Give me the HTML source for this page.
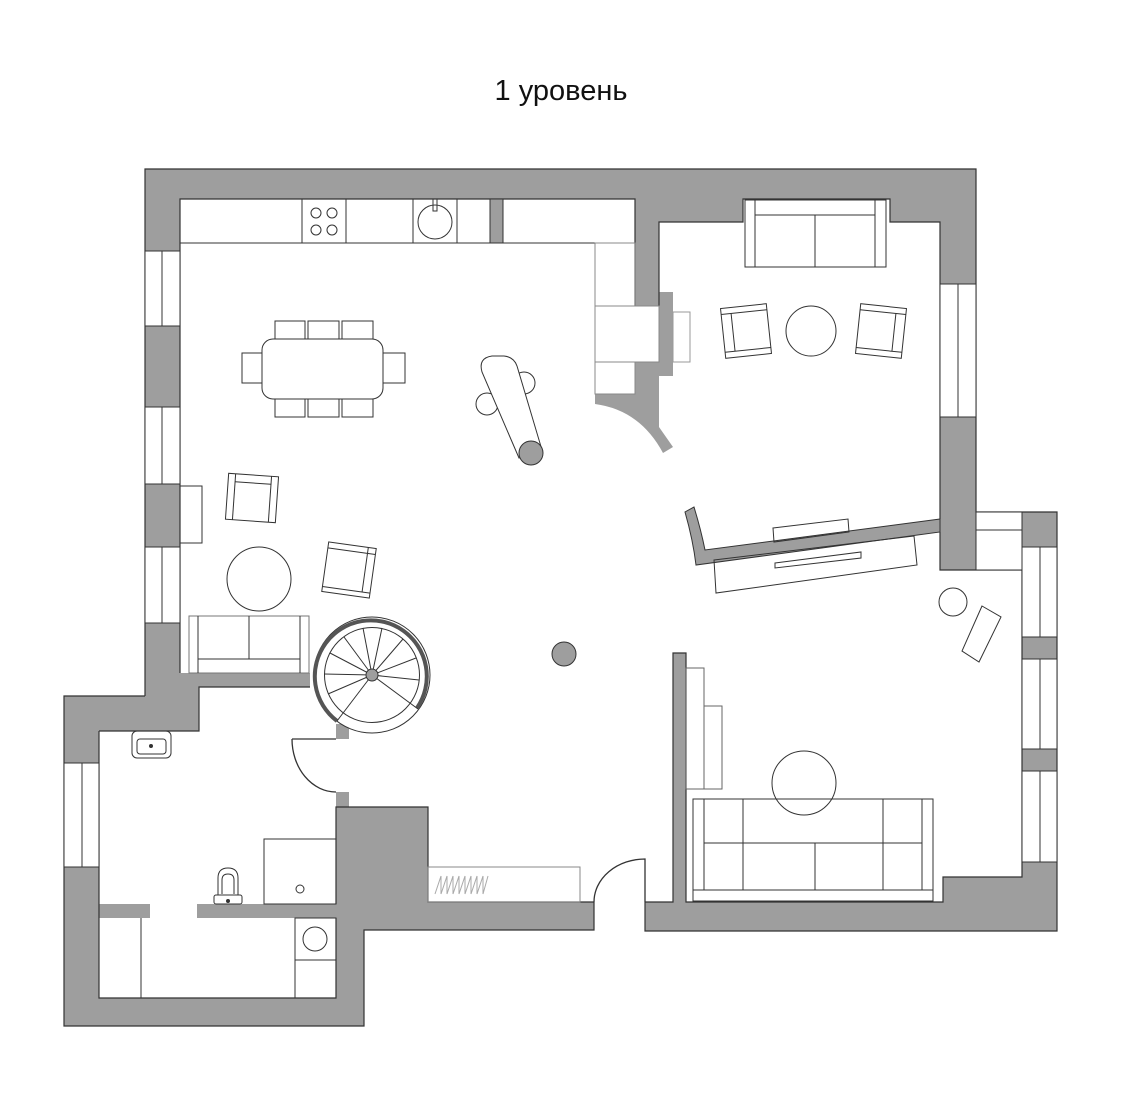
<!DOCTYPE html>
<html><head><meta charset="utf-8"><style>
html,body{margin:0;padding:0;background:#fff;}
svg{display:block;}
</style></head><body>
<svg width="1121" height="1120" viewBox="0 0 1121 1120" xmlns="http://www.w3.org/2000/svg">
<text x="561" y="100" text-anchor="middle" font-family="Liberation Sans, sans-serif" font-size="29" fill="#111">1 уровень</text>
<g fill="#9e9e9e" stroke="none">
<rect x="145" y="169" width="831" height="30"/>
<rect x="659" y="199" width="84" height="23"/>
<rect x="890" y="199" width="50" height="23"/>
<rect x="940" y="199" width="36" height="371"/>
<rect x="635" y="199" width="24" height="107"/>
<rect x="145" y="169" width="35" height="527"/>
<rect x="64" y="696" width="135" height="35"/>
<rect x="180" y="673" width="130" height="14"/>
<rect x="180" y="673" width="19" height="58"/>
<rect x="64" y="696" width="35" height="330"/>
<rect x="64" y="998" width="300" height="28"/>
<rect x="336" y="930" width="28" height="96"/>
<rect x="336" y="807" width="92" height="123"/>
<rect x="336" y="792" width="13" height="15"/>
<rect x="428" y="902" width="166" height="28"/>
<rect x="336" y="724" width="13" height="15"/>
<rect x="645" y="902" width="412" height="29"/>
<rect x="943" y="877" width="114" height="54"/>
<rect x="1022" y="862" width="35" height="69"/>
<rect x="673" y="653" width="13" height="249"/>
<rect x="1022" y="512" width="35" height="35"/>
<rect x="1022" y="637" width="35" height="22"/>
<rect x="1022" y="749" width="35" height="22"/>
<rect x="99" y="904" width="51" height="14"/>
<rect x="197" y="904" width="139" height="14"/>
<rect x="659" y="292" width="14" height="84"/>
<path d="M595,394 L635,394 L635,362 L659,362 L659,427 L673,447 L663,453 Q640,410 595,404 Z"/>
<path d="M940,519 L705,550 Q701,530 694,507 L685,512 Q693,540 696,565 L940,532 Z" stroke="#333" stroke-width="1"/>
</g>
<g fill="none" stroke="#333" stroke-width="1.2">
<path d="M145,696 L145,169 L976,169 L976,512 L1057,512 L1057,931 L645,931 L645,902 M594,902 L594,930 L364,930 L364,1026 L64,1026 L64,696 L145,696"/>
<path d="M180,673 L180,199 L635,199 L635,306 M659,306 L659,222 L743,222 L743,199 L890,199 L890,222 L940,222 L940,519 M940,532 L940,570 L1022,570 L1022,877 L943,877 L943,902 L686,902 L686,653 L673,653 L673,902 L645,902"/>
<path d="M99,731 L199,731 L199,687 L310,687 M99,731 L99,998 L336,998 L336,918 M336,904 L336,807 L428,807 L428,902 L594,902"/>
</g>
<g fill="#fff" stroke="#333" stroke-width="1">
<rect x="145" y="251" width="35" height="75"/><line x1="162" y1="251" x2="162" y2="326"/>
<rect x="145" y="407" width="35" height="77"/><line x1="162" y1="407" x2="162" y2="484"/>
<rect x="145" y="547" width="35" height="76"/><line x1="162" y1="547" x2="162" y2="623"/>
<rect x="64" y="763" width="35" height="104"/><line x1="82" y1="763" x2="82" y2="867"/>
<rect x="940" y="284" width="36" height="133"/><line x1="958" y1="284" x2="958" y2="417"/>
<rect x="976" y="512" width="46" height="58"/><line x1="976" y1="530" x2="1022" y2="530"/>
<rect x="1022" y="547" width="35" height="90"/><line x1="1040" y1="547" x2="1040" y2="637"/>
<rect x="1022" y="659" width="35" height="90"/><line x1="1040" y1="659" x2="1040" y2="749"/>
<rect x="1022" y="771" width="35" height="91"/><line x1="1040" y1="771" x2="1040" y2="862"/>
</g>
<g fill="none" stroke="#333" stroke-width="1">
<line x1="180" y1="243" x2="595" y2="243"/>
<line x1="595" y1="243" x2="635" y2="243"/>
<rect x="302" y="199" width="44" height="44"/>
<circle cx="316" cy="213" r="5"/><circle cx="332" cy="213" r="5"/><circle cx="316" cy="230" r="5"/><circle cx="332" cy="230" r="5"/>
<rect x="413" y="199" width="44" height="44"/>
<circle cx="435" cy="222" r="17"/><rect x="433" y="199" width="4" height="12"/>
<rect x="490" y="199" width="13" height="44" fill="#9e9e9e"/>
<rect x="595" y="243" width="40" height="63" stroke="#888"/>
<rect x="595" y="306" width="64" height="56" stroke="#888"/>
<rect x="595" y="362" width="40" height="32" stroke="#888"/>
<rect x="673" y="312" width="17" height="50" stroke="#999"/>
<rect x="262" y="339" width="121" height="60" rx="11"/>
<rect x="275" y="321" width="30" height="18"/><rect x="308" y="321" width="31" height="18"/><rect x="342" y="321" width="31" height="18"/>
<rect x="275" y="399" width="30" height="18"/><rect x="308" y="399" width="31" height="18"/><rect x="342" y="399" width="31" height="18"/>
<rect x="242" y="353" width="20" height="30"/><rect x="383" y="353" width="22" height="30"/>
<circle cx="524" cy="383" r="11" fill="#fff"/>
<circle cx="487" cy="404" r="11" fill="#fff"/>
<path d="M482,372 Q478,358 492,356 L504,356 Q514,357 517,366 L542,450 L519,458 Z" fill="#fff"/>
<circle cx="531" cy="453" r="12" fill="#9e9e9e"/>
<rect x="180" y="486" width="22" height="57"/>
<g transform="rotate(4 252 498)"><rect x="227" y="475" width="50" height="46"/><line x1="234" y1="475" x2="234" y2="521"/><line x1="234" y1="483" x2="270" y2="483"/><line x1="270" y1="475" x2="270" y2="521"/></g>
<g transform="rotate(8 349 570)"><rect x="325" y="545" width="48" height="50"/><line x1="365" y1="545" x2="365" y2="590"/><line x1="325" y1="590" x2="373" y2="590"/><line x1="325" y1="551" x2="373" y2="551"/></g>
<circle cx="259" cy="579" r="32"/>
<rect x="189" y="616" width="120" height="57" stroke="#777"/>
<line x1="198" y1="616" x2="198" y2="673"/><line x1="300" y1="616" x2="300" y2="673"/>
<line x1="198" y1="659" x2="300" y2="659"/><line x1="249" y1="616" x2="249" y2="659"/>
<circle cx="564" cy="654" r="12" fill="#9e9e9e"/>
<rect x="745" y="200" width="141" height="67"/>
<line x1="755" y1="215" x2="875" y2="215"/><line x1="755" y1="200" x2="755" y2="267"/><line x1="875" y1="200" x2="875" y2="267"/><line x1="815" y1="215" x2="815" y2="267"/>
<g transform="rotate(-6 746 331)"><rect x="723" y="306" width="46" height="50"/><line x1="723" y1="312" x2="769" y2="312"/><line x1="723" y1="350" x2="769" y2="350"/><line x1="733" y1="312" x2="733" y2="350"/></g>
<circle cx="811" cy="331" r="25"/>
<g transform="rotate(6 881 331)"><rect x="858" y="306" width="46" height="50"/><line x1="858" y1="312" x2="904" y2="312"/><line x1="858" y1="350" x2="904" y2="350"/><line x1="894" y1="312" x2="894" y2="350"/></g>
<polygon points="773,528 848,519 849,532 774,542"/>
<polygon points="714,560 914,536 917,565 716,593"/>
<polygon points="775,563 861,552 861,558 775,568"/>
<circle cx="953" cy="602" r="14"/>
<polygon points="982,606 1001,617 979,662 962,651"/>
<rect x="686" y="668" width="18" height="121" stroke="#666"/>
<rect x="704" y="706" width="18" height="83" stroke="#666"/>
<circle cx="804" cy="783" r="32"/>
<rect x="693" y="799" width="240" height="102"/>
<line x1="704" y1="799" x2="704" y2="890"/><line x1="922" y1="799" x2="922" y2="890"/>
<line x1="693" y1="890" x2="933" y2="890"/>
<line x1="743" y1="799" x2="743" y2="890"/><line x1="883" y1="799" x2="883" y2="890"/>
<line x1="704" y1="843" x2="922" y2="843"/><line x1="815" y1="843" x2="815" y2="890"/>
<rect x="132" y="731" width="39" height="27" rx="5"/>
<rect x="137" y="739" width="29" height="15" rx="3"/>
<circle cx="151" cy="746" r="1.5" fill="#333"/>
<path d="M218,895 L218,878 Q218,868 228,868 Q238,868 238,878 L238,895"/>
<path d="M222,894 L222,880 Q222,874 228,874 Q234,874 234,880 L234,894"/>
<rect x="214" y="895" width="28" height="9" rx="2"/>
<circle cx="228" cy="901" r="1.5" fill="#333"/>
<rect x="264" y="839" width="72" height="65"/>
<circle cx="300" cy="889" r="4"/>
<rect x="295" y="918" width="41" height="42"/><circle cx="315" cy="939" r="12"/>
<rect x="295" y="960" width="41" height="38"/>
<line x1="141" y1="918" x2="141" y2="998"/>
<rect x="428" y="867" width="152" height="35" stroke="#888"/>
<polyline points="435,894 441,876 441,894 447,876 447,894 453,876 453,894 459,876 459,894 465,876 465,894 471,876 471,894 477,876 477,894 483,876 483,894 488,876" stroke="#aaa"/>
<path d="M292,739 L336,739 M292,739 A44 53 0 0 0 336,792" stroke-width="1.3"/>
<path d="M594,902 A51 43 0 0 1 645,859 L645,902" stroke-width="1.3"/>
</g>
<g stroke="#333" fill="none">
<circle cx="372" cy="675" r="58" fill="#fff" stroke-width="1"/>
<path d="M337,721 A56 56 0 1 1 417,708" stroke-width="4" stroke="#555"/>
<circle cx="372" cy="675" r="47.5" stroke-width="1"/>
<g stroke-width="1">
<line x1="372" y1="675" x2="363" y2="628"/>
<line x1="372" y1="675" x2="382" y2="628"/>
<line x1="372" y1="675" x2="403" y2="639"/>
<line x1="372" y1="675" x2="416" y2="658"/>
<line x1="372" y1="675" x2="419" y2="680"/>
<line x1="372" y1="675" x2="418" y2="709"/>
<line x1="372" y1="675" x2="337" y2="721"/>
<line x1="372" y1="675" x2="328" y2="694"/>
<line x1="372" y1="675" x2="324" y2="674"/>
<line x1="372" y1="675" x2="330" y2="653"/>
<line x1="372" y1="675" x2="344" y2="637"/>
</g>
<circle cx="372" cy="675" r="6" fill="#9e9e9e" stroke-width="1"/>
</g>
</svg>
</body></html>
